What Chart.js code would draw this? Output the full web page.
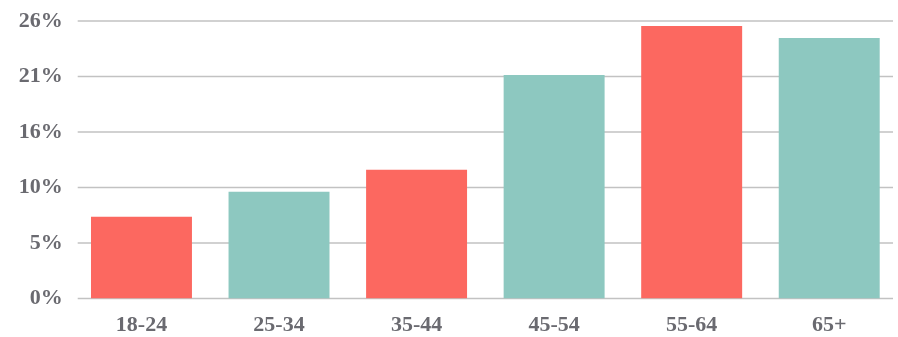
<!DOCTYPE html>
<html>
<head>
<meta charset="utf-8">
<script src="https://cdn.jsdelivr.net/npm/chart.js@4/dist/chart.umd.min.js"></script>
<style>
html,body{margin:0;padding:0;background:#fff;}
#wrap{width:898px;height:337px;}
</style>
</head>
<body>
<div id="wrap"><canvas id="c" width="898" height="337"></canvas></div>
<script>
const categories = ["18-24", "25-34", "35-44", "45-54", "55-64", "65+"];
const values = [7.67, 10.0, 12.07, 20.95, 25.54, 24.4];
const barColors = ["#fc6860", "#8dc8c0", "#fc6860", "#8dc8c0", "#fc6860", "#8dc8c0"];
const yMax = 26;
const yStep = 5.2;

const gridPlugin = {
  id: 'insetGrid',
  beforeDatasetsDraw(chart) {
    const ctx = chart.ctx;
    const y = chart.scales.y;
    const area = chart.chartArea;
    ctx.save();
    ctx.strokeStyle = '#c2c2c2';
    ctx.lineWidth = 1.5;
    y.ticks.forEach(t => {
      const py = y.getPixelForValue(t.value);
      ctx.beginPath();
      ctx.moveTo(area.left + 5, py);
      ctx.lineTo(area.right - 5, py);
      ctx.stroke();
    });
    ctx.restore();
  }
};

const font = {family: "'Liberation Serif', serif", size: 22, weight: 'bold', lineHeight: 1.0};

new Chart(document.getElementById('c'), {
  type: 'bar',
  data: {
    labels: categories,
    datasets: [{data: values, backgroundColor: barColors, borderWidth: 0,
      barPercentage: 0.734, categoryPercentage: 1.0}]
  },
  options: {
    responsive: false,
    animation: false,
    layout: {padding: {top: 20, right: 0, left: 0, bottom: 0}},
    plugins: {legend: {display: false}, tooltip: {enabled: false}},
    scales: {
      x: {
        grid: {display: false, drawTicks: false},
        border: {display: false},
        ticks: {font: font, color: '#6a6a70', padding: 16},
        afterFit(s) { s.height = 38.5; }
      },
      y: {
        min: 0, max: yMax,
        grid: {display: false, drawTicks: false},
        border: {display: false},
        ticks: {stepSize: yStep, font: font, color: '#6a6a70', padding: 10,
          callback: v => Math.round(v) + '%'},
        afterFit(s) { s.width = 72.7; }
      }
    }
  },
  plugins: [gridPlugin]
});
</script>
</body>
</html>
